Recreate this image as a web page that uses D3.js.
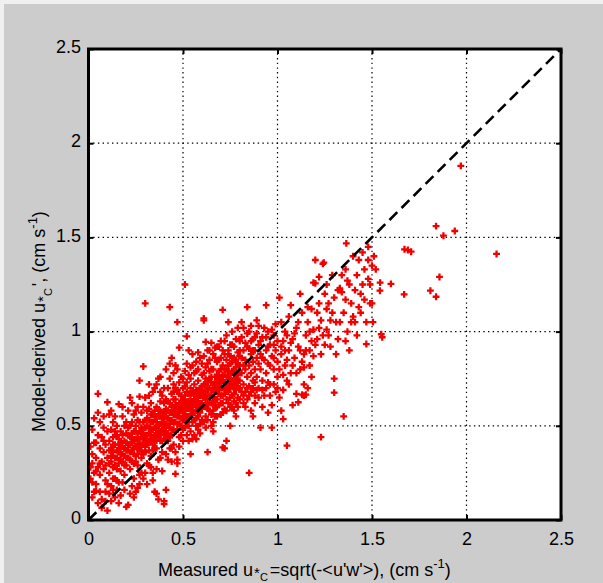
<!DOCTYPE html>
<html>
<head>
<meta charset="utf-8">
<script src="https://cdn.jsdelivr.net/npm/d3@7"></script>
<style>
  html, body { margin: 0; padding: 0; background: #cccccc; }
  svg { display: block; }
  text { font-family: "Liberation Sans", Arial, sans-serif; fill: #000; }
</style>
</head>
<body>
<svg id="chart" width="603" height="583"></svg>
<script>
// ---- data: [measured u*c, model-derived u*c] (cm s^-1) ----
const xTicks = [0, 0.5, 1, 1.5, 2, 2.5];
const yTicks = [0, 0.5, 1, 1.5, 2, 2.5];
const tickLabels = ["0", "0.5", "1", "1.5", "2", "2.5"];
const refLine = [[0, 0], [2.5, 2.5]];

const clusterLeft = [
[0.02,0.30],[0.02,0.35],[0.03,0.25],[0.03,0.41],[0.01,0.22],[0.04,0.33],[0.05,0.28],[0.04,0.19],[0.06,0.38],[0.06,0.24],
[0.07,0.31],[0.07,0.44],[0.08,0.27],[0.08,0.36],[0.09,0.21],[0.09,0.40],[0.10,0.33],[0.10,0.47],[0.02,0.48],[0.05,0.45],
[0.03,0.15],[0.05,0.67],[0.10,0.625],[0.04,0.155],[0.07,0.11],[0.07,0.065],[0.05,0.09],[0.02,0.12],[0.01,0.39],[0.06,0.52],
[0.08,0.49],[0.09,0.15],[0.10,0.19],[0.03,0.54],[0.01,0.28],[0.06,0.30],[0.04,0.41],[0.08,0.42],[0.09,0.29],[0.11,0.37],
[0.02,0.20],[0.04,0.26],
[0.11,0.25],[0.11,0.42],[0.12,0.31],[0.12,0.48],[0.12,0.18],[0.13,0.36],[0.13,0.28],[0.13,0.52],[0.14,0.40],[0.14,0.22],
[0.14,0.33],[0.15,0.45],[0.15,0.27],[0.15,0.37],[0.16,0.30],[0.16,0.615],[0.16,0.43],[0.16,0.20],[0.17,0.35],[0.17,0.47],
[0.17,0.13],[0.17,0.26],[0.18,0.39],[0.18,0.31],[0.18,0.55],[0.19,0.42],[0.19,0.24],[0.19,0.34],[0.20,0.46],[0.20,0.07],
[0.20,0.37],[0.20,0.29],[0.11,0.56],[0.13,0.44],[0.15,0.50],[0.17,0.41],[0.19,0.50],[0.12,0.38],[0.14,0.47],[0.16,0.36],
[0.18,0.45],[0.20,0.52],[0.13,0.16],[0.15,0.21],[0.18,0.20],[0.19,0.16],[0.12,0.10],[0.16,0.09],[0.14,0.12],[0.11,0.30],
[0.17,0.32],[0.19,0.29]
];

const clusterLowMid = [
[0.21,0.40],[0.21,0.33],[0.21,0.49],[0.21,0.08],[0.22,0.65],[0.22,0.44],[0.22,0.36],[0.22,0.27],[0.23,0.52],[0.23,0.41],
[0.23,0.31],[0.24,0.47],[0.24,0.38],[0.24,0.56],[0.24,0.22],[0.25,0.43],[0.25,0.34],[0.25,0.50],[0.26,0.40],[0.26,0.60],
[0.26,0.29],[0.26,0.46],[0.27,0.655],[0.27,0.74],[0.27,0.37],[0.27,0.52],[0.28,0.44],[0.28,0.33],[0.28,0.57],[0.28,0.25],
[0.29,0.815],[0.29,0.48],[0.29,0.40],[0.29,0.60],[0.30,1.15],[0.30,0.45],[0.30,0.36],[0.30,0.53],[0.21,0.45],[0.23,0.46],
[0.25,0.39],[0.27,0.43],[0.29,0.35],[0.22,0.50],[0.24,0.42],[0.26,0.35],[0.28,0.49],[0.30,0.41],[0.23,0.18],[0.25,0.15],
[0.27,0.19],[0.29,0.22],[0.24,0.30],[0.26,0.53],[0.28,0.40],
[0.31,0.50],[0.31,0.40],[0.31,0.58],[0.31,0.30],[0.32,0.59],[0.32,0.46],[0.32,0.37],[0.32,0.66],[0.33,0.52],[0.33,0.43],
[0.33,0.34],[0.33,0.62],[0.34,0.48],[0.34,0.56],[0.34,0.40],[0.34,0.25],[0.35,0.53],[0.35,0.45],[0.35,0.70],[0.35,0.15],
[0.36,0.49],[0.36,0.60],[0.36,0.38],[0.36,0.14],[0.37,0.75],[0.37,0.55],[0.37,0.44],[0.37,0.11],[0.38,0.51],[0.38,0.63],
[0.38,0.42],[0.38,0.68],[0.39,0.57],[0.39,0.47],[0.39,0.36],[0.40,0.52],[0.40,0.62],[0.40,0.085],[0.40,0.10],[0.41,0.16],
[0.31,0.45],[0.33,0.48],[0.35,0.38],[0.37,0.50],[0.39,0.42],[0.32,0.53],[0.34,0.44],[0.36,0.55],[0.38,0.47],[0.40,0.45],
[0.35,0.58],[0.33,0.28],[0.37,0.32],[0.39,0.66],[0.36,0.42],[0.38,0.55]
];

const clusterMid = [
[0.41,0.55],[0.41,0.47],[0.41,0.64],[0.42,0.58],[0.42,0.32],[0.42,0.50],[0.42,0.70],[0.43,0.83],[0.43,1.13],[0.43,0.53],
[0.43,0.44],[0.43,0.62],[0.44,0.57],[0.44,0.67],[0.44,0.48],[0.45,0.60],[0.45,0.52],[0.45,0.40],[0.45,0.72],[0.46,0.245],
[0.46,0.56],[0.46,0.64],[0.46,0.47],[0.47,0.32],[0.47,0.30],[0.47,1.05],[0.47,0.59],[0.47,0.51],[0.47,0.69],[0.48,0.915],
[0.48,0.62],[0.48,0.55],[0.48,0.44],[0.49,0.58],[0.49,0.66],[0.49,0.50],[0.49,0.76],[0.50,0.61],[0.50,0.53],[0.50,0.70],
[0.41,0.59],[0.43,0.49],[0.45,0.64],[0.47,0.55],[0.49,0.62],[0.42,0.63],[0.44,0.53],[0.46,0.58],[0.48,0.67],[0.50,0.57],
[0.44,0.38],[0.46,0.36],[0.48,0.39],[0.45,0.78],[0.47,0.80],[0.49,0.45],[0.42,0.42],[0.50,0.48],
[0.51,1.25],[0.51,0.58],[0.51,0.66],[0.51,0.49],[0.52,0.975],[0.52,0.62],[0.52,0.55],[0.52,0.73],[0.53,0.90],[0.53,0.59],
[0.53,0.67],[0.53,0.50],[0.54,0.35],[0.54,0.63],[0.54,0.56],[0.54,0.75],[0.55,0.60],[0.55,0.68],[0.55,0.52],[0.55,0.82],
[0.56,0.64],[0.56,0.57],[0.56,0.72],[0.56,0.45],[0.57,0.61],[0.57,0.69],[0.57,0.54],[0.57,0.79],[0.58,0.65],[0.58,0.58],
[0.58,0.74],[0.58,0.48],[0.59,0.62],[0.59,0.70],[0.59,0.86],[0.60,0.66],[0.60,0.59],[0.60,0.77],[0.51,0.61],[0.53,0.63],
[0.55,0.56],[0.57,0.65],[0.59,0.57],[0.52,0.68],[0.54,0.70],[0.56,0.61],[0.58,0.62],[0.60,0.71],[0.53,0.42],[0.57,0.43],
[0.59,0.51],[0.55,0.88],[0.51,0.71],[0.58,0.80]
];

const clusterUpperMid = [
[0.61,1.06],[0.61,1.07],[0.61,0.68],[0.61,0.61],[0.61,0.78],[0.62,0.945],[0.62,0.64],[0.62,0.72],[0.62,0.55],[0.63,0.36],
[0.63,0.70],[0.63,0.62],[0.63,0.83],[0.64,0.66],[0.64,0.75],[0.64,0.58],[0.65,0.69],[0.65,0.62],[0.65,0.80],[0.65,0.50],
[0.66,0.72],[0.66,0.65],[0.66,0.88],[0.67,0.915],[0.67,0.68],[0.67,0.60],[0.67,0.76],[0.68,0.71],[0.68,0.64],[0.68,0.84],
[0.68,0.55],[0.69,0.73],[0.69,0.67],[0.69,0.79],[0.70,0.70],[0.70,0.62],[0.70,0.86],[0.62,0.68],[0.64,0.70],[0.66,0.58],
[0.68,0.77],[0.70,0.75],[0.63,0.74],[0.65,0.73],[0.67,0.71],[0.69,0.61],[0.61,0.52],[0.66,0.47],[0.64,0.90],[0.69,0.92],
[0.70,0.80],
[0.71,1.115],[0.71,0.385],[0.71,0.74],[0.71,0.66],[0.71,0.82],[0.72,0.38],[0.72,0.77],[0.72,0.70],[0.72,0.88],[0.73,0.72],
[0.73,0.64],[0.73,0.80],[0.73,0.42],[0.74,1.05],[0.74,0.90],[0.74,0.76],[0.74,0.68],[0.75,0.83],[0.75,0.74],[0.75,0.60],
[0.76,0.79],[0.76,0.71],[0.76,0.93],[0.77,0.75],[0.77,0.67],[0.77,0.86],[0.78,0.81],[0.78,0.73],[0.78,0.55],[0.79,0.77],
[0.79,0.89],[0.79,0.65],[0.80,0.82],[0.80,0.74],[0.80,0.95],[0.72,0.73],[0.74,0.79],[0.76,0.84],[0.78,0.69],[0.80,0.70],
[0.73,0.85],[0.75,0.78],[0.77,0.80],[0.79,0.83],[0.71,0.57],[0.75,0.50],[0.77,0.58],[0.79,0.60]
];

const clusterDense = [
[0.12,0.34],[0.13,0.40],[0.14,0.29],[0.15,0.33],[0.16,0.40],[0.17,0.38],[0.18,0.35],[0.19,0.38],[0.20,0.33],[0.20,0.41],
[0.21,0.37],[0.22,0.40],[0.22,0.32],[0.23,0.37],[0.23,0.44],[0.24,0.35],[0.25,0.47],[0.25,0.31],[0.26,0.43],[0.26,0.38],
[0.27,0.40],[0.27,0.47],[0.28,0.37],[0.28,0.46],[0.29,0.43],[0.29,0.52],[0.30,0.49],[0.30,0.39],[0.31,0.43],[0.31,0.54],
[0.32,0.41],[0.32,0.49],[0.33,0.45],[0.33,0.56],[0.34,0.52],[0.34,0.37],[0.35,0.49],[0.35,0.42],[0.36,0.46],[0.36,0.52],
[0.37,0.47],[0.37,0.58],[0.38,0.45],[0.38,0.58],[0.39,0.51],[0.39,0.54],[0.40,0.49],[0.40,0.57],[0.41,0.51],[0.41,0.43],
[0.42,0.54],[0.42,0.46],[0.43,0.57],[0.43,0.51],[0.44,0.60],[0.44,0.45],[0.45,0.56],[0.45,0.48],[0.46,0.52],[0.46,0.61],
[0.47,0.57],[0.47,0.48],[0.48,0.58],[0.48,0.51],[0.49,0.54],[0.49,0.60],[0.50,0.58],[0.50,0.64],[0.51,0.55],[0.51,0.64],
[0.52,0.59],[0.52,0.52],[0.53,0.61],[0.53,0.55],[0.54,0.60],[0.54,0.66],[0.55,0.63],[0.55,0.58],[0.56,0.67],[0.56,0.53],
[0.57,0.63],[0.57,0.58],[0.58,0.68],[0.58,0.55],[0.59,0.66],[0.59,0.60],[0.60,0.62],[0.60,0.69],[0.61,0.65],[0.61,0.72],
[0.62,0.60],[0.62,0.75],[0.63,0.66],[0.63,0.59],[0.64,0.62],[0.64,0.79],[0.65,0.66],[0.65,0.76],[0.66,0.69],[0.66,0.62],
[0.67,0.73],[0.67,0.64],[0.68,0.68],[0.68,0.74],[0.69,0.70],[0.69,0.76],[0.70,0.66],[0.70,0.73],[0.71,0.70],[0.71,0.77],
[0.72,0.67],[0.72,0.80],[0.73,0.76],[0.73,0.69],[0.74,0.72],[0.74,0.82],[0.75,0.70],[0.75,0.87],[0.76,0.74],[0.76,0.66],
[0.77,0.77],[0.77,0.71],[0.78,0.77],[0.78,0.85],[0.79,0.71],[0.79,0.74],[0.80,0.78],[0.80,0.87]
];

const bandUpper = [
[0.45,0.68],[0.46,0.70],[0.48,0.73],[0.50,0.75],[0.51,0.79],[0.52,0.83],[0.53,0.77],[0.54,0.81],[0.56,0.78],[0.57,0.84],
[0.58,0.89],[0.60,0.83],[0.61,0.87],[0.62,0.81],[0.63,0.90],[0.64,0.85],[0.65,0.94],[0.66,0.80],[0.67,0.86],[0.68,0.92],
[0.69,0.85],[0.70,0.95],[0.71,0.90],[0.72,0.95],[0.73,0.98],[0.74,0.88],[0.75,0.93],[0.76,1.00],[0.77,0.92],[0.78,0.96],
[0.79,1.02],[0.80,0.90],[0.81,0.97],[0.82,1.02],[0.83,0.94],[0.84,0.99],[0.85,0.91],[0.86,1.03],[0.87,0.90],[0.88,0.97],
[0.90,1.03],[0.91,0.95],[0.92,0.86],[0.94,0.97],[0.95,0.92],[0.97,1.01],[0.98,0.86],[1.00,0.95],
[0.05,0.57],[0.08,0.55],[0.12,0.58],[0.14,0.55],[0.18,0.60],[0.21,0.58],[0.23,0.62],[0.25,0.58],[0.30,0.65],[0.32,0.72],
[0.34,0.68],[0.36,0.72],[0.38,0.76],[0.40,0.70],[0.41,0.80],[0.43,0.75],[0.44,0.86],[0.46,0.82]
];

const bandLower = [
[0.50,0.42],[0.52,0.45],[0.54,0.47],[0.55,0.43],[0.57,0.50],[0.59,0.46],[0.60,0.53],[0.62,0.49],[0.63,0.53],[0.65,0.56],
[0.66,0.52],[0.67,0.55],[0.68,0.60],[0.70,0.56],[0.71,0.62],[0.72,0.59],[0.73,0.58],[0.74,0.62],[0.75,0.65],[0.76,0.60],
[0.77,0.63],[0.78,0.62],[0.80,0.64],[0.81,0.68],[0.82,0.66],[0.84,0.64],[0.85,0.66],[0.86,0.68],[0.87,0.70],[0.88,0.62],
[0.89,0.69],[0.90,0.65],[0.92,0.69],[0.94,0.70],[0.95,0.73],[0.96,0.66],[0.98,0.72],[1.00,0.70],
[0.22,0.14],[0.24,0.12],[0.26,0.17],[0.27,0.24],[0.30,0.25],[0.31,0.19],[0.32,0.29],[0.34,0.21],[0.36,0.27],[0.38,0.33],
[0.39,0.26],[0.41,0.35],[0.43,0.38],[0.44,0.31],[0.06,0.15],[0.09,0.10],[0.11,0.14],[0.13,0.22],[0.15,0.16],[0.10,0.05]
];

const clusterHigh = [
[0.81,1.05],[0.81,0.78],[0.81,0.86],[0.82,0.72],[0.82,0.90],[0.82,0.62],[0.83,0.80],[0.83,0.85],[0.83,0.68],[0.84,1.13],
[0.84,0.76],[0.84,0.92],[0.85,0.25],[0.85,0.82],[0.85,0.71],[0.86,0.88],[0.86,0.78],[0.86,0.58],[0.87,0.84],[0.87,0.96],
[0.87,0.74],[0.88,0.80],[0.88,0.90],[0.88,0.66],[0.89,1.06],[0.89,0.86],[0.89,0.76],[0.90,0.83],[0.90,0.93],[0.90,0.70],
[0.82,0.82],[0.84,0.70],[0.86,0.95],[0.88,0.73],[0.83,0.60],[0.87,0.55],[0.89,0.99],[0.85,1.00],
[0.91,0.49],[0.91,0.80],[0.91,0.88],[0.92,0.97],[0.92,0.74],[0.93,0.85],[0.93,0.66],[0.94,1.14],[0.94,0.90],[0.94,0.78],
[0.95,1.00],[0.95,0.83],[0.96,0.72],[0.96,0.93],[0.97,0.49],[0.97,0.87],[0.97,0.61],[0.98,0.98],[0.98,0.80],[0.99,0.68],
[0.99,0.90],[1.00,0.84],[1.00,0.76],[0.92,0.60],[0.95,0.57],[0.98,0.93],[0.93,1.02],[0.96,0.82],[0.99,1.04]
];

const sparseUpper = [
[1.01,1.18],[1.01,0.65],[1.02,1.05],[1.02,0.58],[1.02,0.88],[1.03,0.536],[1.03,0.69],[1.03,0.95],[1.04,0.82],[1.04,1.00],
[1.05,0.395],[1.05,0.74],[1.06,0.90],[1.06,1.08],[1.07,0.78],[1.08,0.61],[1.08,0.96],[1.09,0.86],[1.10,0.67],[1.10,1.02],
[1.11,0.625],[1.11,0.92],[1.12,1.20],[1.12,0.80],[1.13,0.665],[1.13,1.10],[1.14,0.88],[1.14,0.81],[1.15,0.665],[1.15,0.98],
[1.16,1.05],[1.16,0.70],[1.17,1.00],[1.17,0.90],[1.18,1.12],[1.18,0.76],[1.19,1.26],[1.19,1.01],[1.20,1.38],[1.20,0.93],
[1.14,0.72],[1.14,0.66],[1.07,1.14],[1.05,0.98],
[1.22,1.29],[1.22,1.02],[1.24,1.36],[1.24,0.98],[1.245,1.366],[1.20,1.256],[1.21,1.10],[1.23,0.88],[1.23,0.44],[1.25,1.20],
[1.26,1.01],[1.27,1.15],[1.28,0.92],[1.29,1.30],[1.30,0.75],[1.30,0.676],[1.31,1.05],[1.32,1.22],[1.33,1.22],[1.33,1.23],
[1.34,1.21],[1.35,0.55],[1.35,1.10],[1.36,0.95],[1.36,1.33],[1.364,1.468],[1.37,1.00],[1.38,1.25],[1.39,1.15],[1.40,1.40],
[1.41,1.05],[1.42,1.30],[1.43,1.38],[1.44,1.20],[1.45,1.42],[1.46,1.33],[1.47,1.05],[1.47,0.934],[1.48,1.28],[1.49,1.15],
[1.50,1.15],[1.505,1.05],[1.48,1.45],[1.45,1.25],[1.40,1.08],[1.38,0.90],[1.42,0.98],[1.26,1.12],[1.28,1.06],[1.32,0.96],
[1.44,1.10],
[1.01,0.80],[1.02,0.92],[1.03,0.77],[1.04,0.90],[1.05,0.85],[1.06,0.72],[1.07,0.94],[1.08,0.82],[1.09,0.99],[1.10,0.78],
[1.11,1.05],[1.12,0.90],[1.13,0.84],[1.15,0.90],[1.16,1.13],[1.17,0.82],[1.18,0.95],[1.19,0.87],[1.21,0.96],[1.22,1.15],
[1.23,1.06],[1.25,0.93],[1.26,1.25],[1.27,0.98],[1.29,1.10],[1.30,1.18],[1.31,0.88],[1.33,1.05],[1.34,1.30],[1.36,1.17],
[1.37,1.27],[1.39,1.05],[1.41,1.22],[1.43,1.13],[1.46,1.17],[1.48,1.38],[1.49,1.25],[1.50,1.35],[1.51,1.40],[1.52,1.33]
];

const outliers = [
[1.543,1.260],[1.542,1.217],[1.549,0.986],[1.554,0.970],[1.600,1.253],[1.670,1.198],[1.672,1.437],[1.690,1.433],
[1.707,1.424],[1.809,1.217],[1.839,1.185],[1.857,1.290],[1.839,1.560],[1.878,1.509],[1.938,1.534],[2.159,1.412],[1.97,1.88]
];

const allPoints = [].concat(clusterLeft, clusterLowMid, clusterMid, clusterUpperMid, clusterDense,
  bandUpper, bandLower, clusterHigh, sparseUpper, outliers);

// ---- drawing ----
const svg = d3.select("#chart");
const W = 603, H = 583;
const L = 88.5, R = 561, T = 49, B = 520;

svg.append("rect").attr("x", 0).attr("y", 0).attr("width", W).attr("height", H).attr("fill", "#f0f0f0");
svg.append("rect").attr("x", 4).attr("y", 4).attr("width", W - 4).attr("height", H - 4).attr("fill", "#cccccc");

const x = d3.scaleLinear().domain([0, 2.5]).range([L, R]);
const y = d3.scaleLinear().domain([0, 2.5]).range([B, T]);

svg.append("rect").attr("x", L).attr("y", T).attr("width", R - L).attr("height", B - T).attr("fill", "#ffffff");

// grid (dotted)
const grid = svg.append("g").attr("stroke", "#000").attr("stroke-width", 1.2).attr("stroke-dasharray", "1.4,3.3");
grid.selectAll("line.v").data(xTicks.slice(1, -1)).join("line")
  .attr("x1", d => x(d)).attr("x2", d => x(d)).attr("y1", B).attr("y2", T);
grid.selectAll("line.h").data(yTicks.slice(1, -1)).join("line")
  .attr("y1", d => y(d)).attr("y2", d => y(d)).attr("x1", L).attr("x2", R);

// points
const sym = d3.symbol().type(d3.symbolCross).size(26);
svg.append("g").selectAll("path").data(allPoints).join("path")
  .attr("d", sym)
  .attr("transform", d => `translate(${x(d[0])},${y(d[1])})`)
  .attr("fill", "#f20000");

// 1:1 dashed line
svg.append("path").datum(refLine)
  .attr("d", d3.line().x(d => x(d[0])).y(d => y(d[1])))
  .attr("fill", "none").attr("stroke", "#000").attr("stroke-width", 2.6)
  .attr("stroke-dasharray", "11,6");

// axes
const fmt = (d, i) => tickLabels[i];
const gx = svg.append("g").attr("transform", `translate(0,${B})`)
  .call(d3.axisBottom(x).tickValues(xTicks).tickFormat(fmt).tickSizeInner(-5).tickSizeOuter(0).tickPadding(12));
const gy = svg.append("g").attr("transform", `translate(${L},0)`)
  .call(d3.axisLeft(y).tickValues(yTicks).tickFormat(fmt).tickSizeInner(-5).tickSizeOuter(0).tickPadding(7.5));
const gt = svg.append("g").attr("transform", `translate(0,${T})`)
  .call(d3.axisTop(x).tickValues(xTicks).tickFormat("").tickSizeInner(-5).tickSizeOuter(0));
const gr = svg.append("g").attr("transform", `translate(${R},0)`)
  .call(d3.axisRight(y).tickValues(yTicks).tickFormat("").tickSizeInner(-5).tickSizeOuter(0));
[gx, gy, gt, gr].forEach(g => {
  g.select(".domain").remove();
  g.selectAll(".tick line").attr("stroke", "#000").attr("stroke-width", 2);
  g.selectAll(".tick text").attr("font-size", 18).attr("font-family", "Liberation Sans, Arial, sans-serif").attr("fill", "#000");
});
gy.selectAll(".tick text").attr("dy", "0.2em");

// frame
svg.append("rect").attr("x", L).attr("y", T).attr("width", R - L).attr("height", B - T)
  .attr("fill", "none").attr("stroke", "#000").attr("stroke-width", 3);

// x title
const xt = svg.append("text").attr("x", 158).attr("y", 576)
  .attr("text-anchor", "start").attr("font-size", 18);
xt.append("tspan").text("Measured u");
xt.append("tspan").attr("font-size", 15).attr("dx", 1).attr("dy", 2).text("*");
xt.append("tspan").attr("font-size", 11).attr("dy", 3).text("C");
xt.append("tspan").attr("dx", 2).attr("dy", -5).text("=sqrt(-<u'w'>), (cm s");
xt.append("tspan").attr("font-size", 13).attr("dy", -8).text("-1");
xt.append("tspan").attr("dy", 8).text(")");

// y title
const yt = svg.append("text").attr("transform", `translate(45,432) rotate(-90)`)
  .attr("text-anchor", "start").attr("font-size", 18);
yt.append("tspan").text("Model-derived u");
yt.append("tspan").attr("font-size", 15).attr("dx", 1).attr("dy", 3).text("*");
yt.append("tspan").attr("font-size", 11).attr("dy", 4).text("C");
yt.append("tspan").attr("dx", 2).attr("dy", -7).text("', (cm s");
yt.append("tspan").attr("font-size", 13).attr("dy", -8).text("-1");
yt.append("tspan").attr("dy", 8).text(")");
</script>
</body>
</html>
